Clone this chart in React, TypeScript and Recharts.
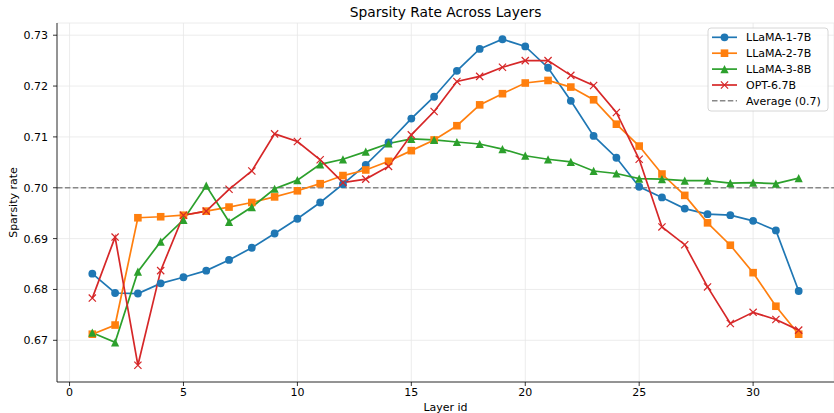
import React from "react";
import { LineChart, Line, XAxis, YAxis, CartesianGrid, ReferenceLine } from "recharts";

const layers = [1, 2, 3, 4, 5, 6, 7, 8, 9, 10, 11, 12, 13, 14, 15, 16, 17, 18, 19, 20, 21, 22, 23, 24, 25, 26, 27, 28, 29, 30, 31, 32];

const llama1 = [0.6831, 0.6793, 0.6792, 0.6812, 0.6824, 0.6837, 0.6858, 0.6882, 0.691, 0.6939, 0.6971, 0.7007, 0.7045, 0.7089, 0.7136, 0.7179, 0.723, 0.7273, 0.7292, 0.7278, 0.7236, 0.7171, 0.7102, 0.7059, 0.7002, 0.6981, 0.6959, 0.6948, 0.6946, 0.6935, 0.6916, 0.6797];
const llama2 = [0.6712, 0.673, 0.6941, 0.6943, 0.6946, 0.6954, 0.6962, 0.6971, 0.6982, 0.6994, 0.7008, 0.7024, 0.7035, 0.7052, 0.7073, 0.7094, 0.7122, 0.7163, 0.7185, 0.7206, 0.7211, 0.7198, 0.7173, 0.7125, 0.7082, 0.7027, 0.6985, 0.6931, 0.6887, 0.6833, 0.6767, 0.6712];
const llama3 = [0.6715, 0.6696, 0.6835, 0.6894, 0.6937, 0.7004, 0.6933, 0.6962, 0.6998, 0.7015, 0.7046, 0.7056, 0.7071, 0.7087, 0.7096, 0.7094, 0.709, 0.7086, 0.7076, 0.7063, 0.7056, 0.7051, 0.7033, 0.7028, 0.7018, 0.7017, 0.7014, 0.7014, 0.7009, 0.701, 0.7008, 0.7019];
const opt = [0.6783, 0.6903, 0.6651, 0.6837, 0.6946, 0.6954, 0.6997, 0.7033, 0.7106, 0.7091, 0.7055, 0.701, 0.7017, 0.7042, 0.7104, 0.715, 0.7209, 0.7219, 0.7237, 0.725, 0.725, 0.7221, 0.7201, 0.7148, 0.7056, 0.6923, 0.6888, 0.6805, 0.6733, 0.6755, 0.6741, 0.672];

const average = 0.7;
const xTicks = [0, 5, 10, 15, 20, 25, 30];
const yTicks = [0.67, 0.68, 0.69, 0.7, 0.71, 0.72, 0.73];

const data = layers.map((layer, i) => ({
  layer,
  llama1: llama1[i],
  llama2: llama2[i],
  llama3: llama3[i],
  opt: opt[i],
}));

const FONT = '"DejaVu Sans", sans-serif';

type Kind = "circle" | "square" | "triangle" | "cross";

const series: { key: string; name: string; color: string; marker: Kind }[] = [
  { key: "llama1", name: "LLaMA-1-7B", color: "#1f77b4", marker: "circle" },
  { key: "llama2", name: "LLaMA-2-7B", color: "#ff7f0e", marker: "square" },
  { key: "llama3", name: "LLaMA-3-8B", color: "#2ca02c", marker: "triangle" },
  { key: "opt", name: "OPT-6.7B", color: "#d62728", marker: "cross" },
];

function marker(kind: Kind, cx: number, cy: number, color: string, key?: string | number) {
  if (kind === "circle") return <circle key={key} cx={cx} cy={cy} r={3.9} fill={color} />;
  if (kind === "square") return <rect key={key} x={cx - 3.8} y={cy - 3.8} width={7.6} height={7.6} fill={color} />;
  if (kind === "triangle") {
    const s = 4.1;
    return <polygon key={key} points={`${cx},${cy - s} ${cx - s},${cy + s} ${cx + s},${cy + s}`} fill={color} />;
  }
  const s = 3.6;
  return (
    <path key={key} d={`M${cx - s},${cy - s}L${cx + s},${cy + s}M${cx - s},${cy + s}L${cx + s},${cy - s}`} stroke={color} strokeWidth={1.2} fill="none" />
  );
}

function YLabel(props: any) {
  const vb = props.viewBox || {};
  const cy = (vb.y ?? 23) + (vb.height ?? 359) / 2;
  return (
    <text x={13} y={cy} transform={`rotate(-90, 13, ${cy})`} textAnchor="middle" dominantBaseline="central" fontSize={11} fontFamily={FONT} fill="#000">
      Sparsity rate
    </text>
  );
}

function Overlay() {
  const rowY = [37.3, 53.2, 69.1, 85, 100.8];
  return (
    <svg width={834} height={413} style={{ position: "absolute", left: 0, top: 0, pointerEvents: "none" }}>
      <text x={445.5} y={17} textAnchor="middle" fontSize={13.8} fontFamily={FONT} fill="#000">
        Sparsity Rate Across Layers
      </text>
      <rect x={708} y={28} width={120} height={83} rx={3} fill="#fff" fillOpacity={0.8} stroke="#cccccc" strokeWidth={0.8} />
      {series.map((s, i) => (
        <g key={s.key}>
          <line x1={712} x2={737} y1={rowY[i]} y2={rowY[i]} stroke={s.color} strokeWidth={1.7} />
          {marker(s.marker, 724.5, rowY[i], s.color)}
          <text x={746} y={rowY[i] + 4} fontSize={11} fontFamily={FONT} fill="#000">
            {s.name}
          </text>
        </g>
      ))}
      <line x1={712} x2={737} y1={rowY[4]} y2={rowY[4]} stroke="#888" strokeWidth={1.5} strokeDasharray="5.5 2.4" />
      <text x={746} y={rowY[4] + 4} fontSize={11} fontFamily={FONT} fill="#000">
        Average (0.7)
      </text>
    </svg>
  );
}

export default function App() {
  const tickStyle = { fill: "#000", fontSize: 11, fontFamily: FONT };
  return (
    <div style={{ position: "absolute", left: 0, top: 0, width: 834, height: 413, background: "#fff" }}>
      <LineChart width={834} height={413} data={data} margin={{ top: 23, right: 0, bottom: 0, left: 0 }}>
        <CartesianGrid stroke="#e7e7e7" strokeWidth={0.8} />
        <XAxis
          dataKey="layer"
          type="number"
          domain={[-0.55, 33.55]}
          ticks={xTicks}
          interval={0}
          allowDataOverflow
          height={31}
          tickSize={4}
          tickMargin={2}
          tick={tickStyle}
          tickLine={{ stroke: "#000", strokeWidth: 0.8 }}
          axisLine={{ stroke: "#000", strokeWidth: 0.8 }}
          label={{ value: "Layer id", position: "insideBottom", offset: 2, fontSize: 11, fontFamily: FONT, fill: "#000" }}
        />
        <XAxis
          xAxisId="top"
          orientation="top"
          dataKey="layer"
          type="number"
          domain={[-0.55, 33.55]}
          height={0}
          tick={false}
          tickLine={false}
          axisLine={{ stroke: "#000", strokeWidth: 0.8 }}
        />
        <YAxis
          type="number"
          domain={[0.6618, 0.7324]}
          ticks={yTicks}
          interval={0}
          allowDataOverflow
          width={57}
          tickSize={4}
          tickMargin={5}
          tick={tickStyle}
          tickFormatter={(v: number) => v.toFixed(2)}
          tickLine={{ stroke: "#000", strokeWidth: 0.8 }}
          axisLine={{ stroke: "#000", strokeWidth: 0.8 }}
          label={<YLabel />}
        />
        <ReferenceLine y={average} stroke="#888" strokeWidth={1.5} strokeDasharray="5.5 2.4" />
        {series.map((s) => (
          <Line
            key={s.key}
            dataKey={s.key}
            name={s.name}
            type="linear"
            stroke={s.color}
            strokeWidth={1.7}
            isAnimationActive={false}
            activeDot={false}
            dot={(p: any) => marker(s.marker, p.cx, p.cy, s.color, p.index)}
          />
        ))}
      </LineChart>
      <Overlay />
    </div>
  );
}
